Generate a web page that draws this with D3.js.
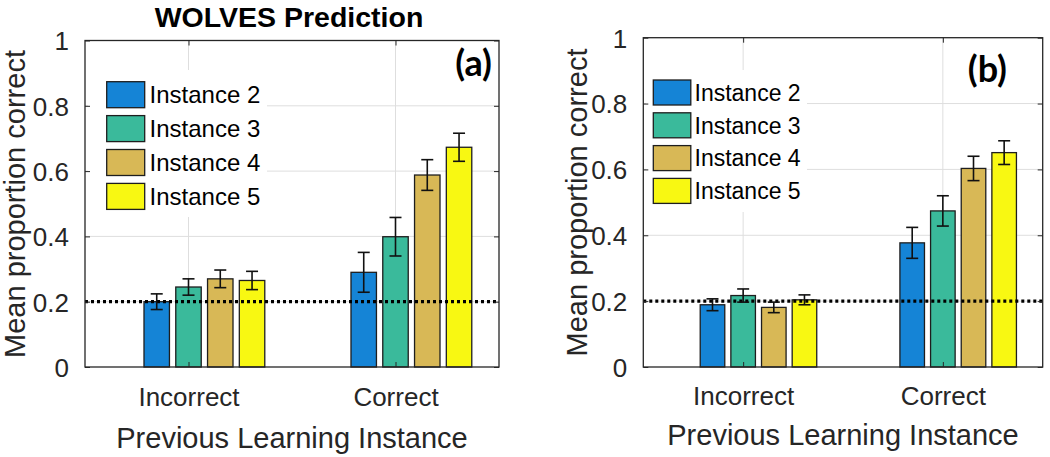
<!DOCTYPE html>
<html><head><meta charset="utf-8">
<script src="https://cdn.jsdelivr.net/npm/d3@7"></script>
<style>html,body{margin:0;padding:0;background:#fff;}svg{display:block;}</style>
</head><body>
<svg id="chart" width="1050" height="457"></svg>
<script>
// ---- data ----
const categories = ["Incorrect", "Correct"];
const seriesNames = ["Instance 2", "Instance 3", "Instance 4", "Instance 5"];
const seriesColors = ["#1584d6", "#3aba9b", "#d8b856", "#f8f812"];
const yTickValues = [0, 0.2, 0.4, 0.6, 0.8, 1];
const yTickLabels = ["0", "0.2", "0.4", "0.6", "0.8", "1"];
const chanceLevel = 0.2;
// panel (a): rows = categories, columns = instances 2..5
const meansA = [[0.200, 0.245, 0.270, 0.265], [0.290, 0.399, 0.588, 0.673]];
const errsA  = [[0.024, 0.025, 0.027, 0.028], [0.061, 0.059, 0.047, 0.043]];
// panel (b)
const meansB = [[0.189, 0.217, 0.181, 0.204], [0.377, 0.474, 0.603, 0.651]];
const errsB  = [[0.018, 0.020, 0.016, 0.015], [0.047, 0.046, 0.037, 0.036]];
const titleA = "WOLVES Prediction";
const yLabelText = "Mean proportion correct";
const xLabelText = "Previous Learning Instance";

const svg = d3.select("#chart");
const axisColor = "#262626";

function drawPanel(cfg) {
  const g = svg.append("g");
  const x = d3.scaleLinear().domain([0.5, 2.5]).range([cfg.left, cfg.right]);
  const y = d3.scaleLinear().domain([0, 1]).range([cfg.bottom, cfg.top]);
  const slot = 0.1535, barW = 0.123;
  const offset = i => (i - 1) * slot;

  // grid
  g.selectAll(".hg").data(yTickValues.slice(1, -1)).enter().append("line")
    .attr("x1", cfg.left).attr("x2", cfg.right)
    .attr("y1", d => y(d)).attr("y2", d => y(d))
    .attr("stroke", "#dedede").attr("stroke-width", 1);
  g.selectAll(".vg").data([1, 2]).enter().append("line")
    .attr("x1", d => x(d)).attr("x2", d => x(d))
    .attr("y1", cfg.top).attr("y2", cfg.bottom)
    .attr("stroke", "#dedede").attr("stroke-width", 1);

  // legend background (white, hides grid)
  g.append("rect").attr("x", cfg.legBg[0]).attr("y", cfg.legBg[1])
    .attr("width", cfg.legBg[2]).attr("height", cfg.legBg[3]).attr("fill", "#fff");

  // bars
  cfg.means.forEach((row, ci) => {
    row.forEach((v, si) => {
      const cx = ci + 1 + offset(si);
      g.append("rect")
        .attr("x", x(cx - barW / 2)).attr("width", x(cx + barW / 2) - x(cx - barW / 2))
        .attr("y", y(v)).attr("height", y(0) - y(v))
        .attr("fill", seriesColors[si]).attr("stroke", "#1e1e1e").attr("stroke-width", 1.3);
    });
  });

  // chance line
  g.append("line").attr("x1", cfg.left).attr("x2", cfg.right)
    .attr("y1", y(chanceLevel)).attr("y2", y(chanceLevel))
    .attr("stroke", "#000").attr("stroke-width", 3.2).attr("stroke-dasharray", "3,3");

  // error bars
  cfg.means.forEach((row, ci) => {
    row.forEach((v, si) => {
      const cx = x(ci + 1 + offset(si));
      const e = cfg.errs[ci][si];
      const eb = g.append("g").attr("stroke", "#111").attr("stroke-width", 1.6);
      eb.append("line").attr("x1", cx).attr("x2", cx).attr("y1", y(v - e)).attr("y2", y(v + e));
      eb.append("line").attr("x1", cx - 6).attr("x2", cx + 6).attr("y1", y(v - e)).attr("y2", y(v - e));
      eb.append("line").attr("x1", cx - 6).attr("x2", cx + 6).attr("y1", y(v + e)).attr("y2", y(v + e));
    });
  });

  // box
  g.append("rect").attr("x", cfg.left).attr("y", cfg.top)
    .attr("width", cfg.right - cfg.left).attr("height", cfg.bottom - cfg.top)
    .attr("fill", "none").attr("stroke", axisColor).attr("stroke-width", 1.3);

  // y axis via d3 axis (inward ticks)
  const yAxis = d3.axisLeft(y).tickValues(yTickValues)
    .tickFormat((d, i) => yTickLabels[i]).tickSizeInner(-5).tickSizeOuter(0).tickPadding(16);
  const ya = g.append("g").attr("transform", `translate(${cfg.left},0)`).call(yAxis);
  ya.select(".domain").remove();
  ya.selectAll("line").attr("stroke", axisColor);
  ya.selectAll("text").attr("font-family", "Liberation Sans, Arial, sans-serif")
    .attr("font-size", 26).attr("fill", axisColor).attr("dy", "0.36em");
  const yAxisR = d3.axisRight(y).tickValues(yTickValues).tickFormat("").tickSizeInner(-5).tickSizeOuter(0);
  const yr = g.append("g").attr("transform", `translate(${cfg.right},0)`).call(yAxisR);
  yr.select(".domain").remove();
  yr.selectAll("line").attr("stroke", axisColor);

  // x axis
  const xAxis = d3.axisBottom(x).tickValues([1, 2])
    .tickFormat((d, i) => categories[i]).tickSizeInner(-5).tickSizeOuter(0).tickPadding(0);
  const xa = g.append("g").attr("transform", `translate(0,${cfg.bottom})`).call(xAxis);
  xa.select(".domain").remove();
  xa.selectAll("line").attr("stroke", axisColor);
  xa.selectAll("text").attr("font-family", "Liberation Sans, Arial, sans-serif")
    .attr("font-size", 26).attr("fill", axisColor)
    .attr("y", cfg.xTickBase - cfg.bottom).attr("dy", 0);
  const xAxisT = d3.axisTop(x).tickValues([1, 2]).tickFormat("").tickSizeInner(-5).tickSizeOuter(0);
  const xt = g.append("g").attr("transform", `translate(0,${cfg.top})`).call(xAxisT);
  xt.select(".domain").remove();
  xt.selectAll("line").attr("stroke", axisColor);

  // axis labels
  g.append("text").attr("x", (cfg.left + cfg.right) / 2).attr("y", cfg.xLabBase)
    .attr("text-anchor", "middle").attr("font-family", "Liberation Sans, Arial, sans-serif")
    .attr("font-size", 29).attr("fill", axisColor).text(xLabelText);
  g.append("text").attr("transform", `translate(${cfg.yLabX},${cfg.yLabY}) rotate(-90)`)
    .attr("text-anchor", "middle").attr("font-family", "Liberation Sans, Arial, sans-serif")
    .attr("font-size", 29).attr("fill", axisColor).text(yLabelText);

  // legend
  seriesNames.forEach((name, i) => {
    const ty = cfg.legY + i * cfg.legStep;
    g.append("rect").attr("x", cfg.legX).attr("y", ty).attr("width", cfg.swW).attr("height", cfg.swH)
      .attr("fill", seriesColors[i]).attr("stroke", "#1e1e1e").attr("stroke-width", 1.3);
    g.append("text").attr("x", cfg.legTextX).attr("y", ty + cfg.swH / 2 + 0.36 * cfg.legFont)
      .attr("font-family", "Liberation Sans, Arial, sans-serif").attr("font-size", cfg.legFont)
      .attr("fill", "#000").text(name);
  });

  // panel tag
  g.append("text").attr("x", cfg.tagX).attr("y", cfg.tagY).attr("text-anchor", "end")
    .attr("font-family", "Lato, 'Open Sans', sans-serif").attr("font-weight", "bold")
    .attr("font-size", 36).attr("fill", "#000").text(cfg.tag);

  if (cfg.title) {
    g.append("text").attr("x", (cfg.left + cfg.right) / 2 - 3).attr("y", 26.5)
      .attr("text-anchor", "middle").attr("font-family", "Liberation Sans, Arial, sans-serif")
      .attr("font-weight", "bold").attr("font-size", 28.5).attr("fill", "#000").text(cfg.title);
  }
}

drawPanel({
  left: 85, right: 499, top: 40.5, bottom: 367,
  means: meansA, errs: errsA, title: titleA, tag: "(a)", tagX: 492, tagY: 76,
  xTickBase: 406, xLabBase: 447.5, yLabX: 25, yLabY: 204,
  legBg: [88, 70, 179, 147], legX: 106.7, legY: 81.7, legStep: 33.9, swW: 38, swH: 26,
  legTextX: 149.5, legFont: 24
});
drawPanel({
  left: 643.3, right: 1042.7, top: 37.7, bottom: 367,
  means: meansB, errs: errsB, title: null, tag: "(b)", tagX: 1007, tagY: 82,
  xTickBase: 405, xLabBase: 445, yLabX: 586.7, yLabY: 202.5,
  legBg: [646, 70, 161, 142], legX: 653.3, legY: 80, legStep: 32.8, swW: 37.5, swH: 25,
  legTextX: 694.5, legFont: 23
});
</script>
</body></html>
